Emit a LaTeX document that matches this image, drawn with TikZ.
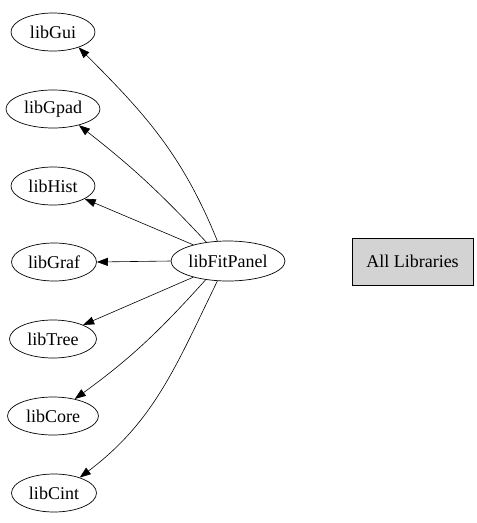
\documentclass[tikz,border=0pt]{standalone}
\usepackage{fontspec}
\setmainfont{Liberation Serif}
\usetikzlibrary{shapes.geometric,arrows.meta}
\definecolor{boxgray}{RGB}{211,211,211}
\begin{document}
\begin{tikzpicture}[x=1pt,y=1pt,
  lib/.style={draw,ellipse,line width=0.7pt,inner sep=0pt,minimum height=38pt,font=\fontsize{18}{21}\selectfont},
  legendbox/.style={draw,rectangle,line width=0.7pt,fill=boxgray,inner sep=0pt,minimum width=121pt,minimum height=47pt,font=\fontsize{18}{21}\selectfont},
  dep/.style={line width=0.6pt,-{Triangle[length=11pt,width=8pt]}}]
\useasboundingbox (0,0) rectangle (477,-523);
\node[lib,minimum width=84pt] (gui) at (53,-32) {libGui};
\node[lib,minimum width=94pt] (gpad) at (53,-109) {libGpad};
\node[lib,minimum width=84pt] (hist) at (53,-186) {libHist};
\node[lib,minimum width=85pt] (graf) at (54,-262) {libGraf};
\node[lib,minimum width=87pt] (tree) at (53,-339) {libTree};
\node[lib,minimum width=91pt] (core) at (53,-416) {libCore};
\node[lib,minimum width=85pt] (cint) at (54,-493) {libCint};
\node[lib,minimum width=114pt,minimum height=40pt] (fp) at (228,-261) {libFitPanel};
\node[legendbox] (all) at (412.5,-261.5) {All Libraries};
\draw[dep] (fp.118) to[out=112,in=-45] (gui.-31);
\draw[dep] (fp.139) to[out=133,in=-38] (gpad.-32);
\draw[dep] (fp.155) -- (hist.-22);
\draw[dep] (fp.west) -- (graf.east);
\draw[dep] (fp.205) -- (tree.25);
\draw[dep] (fp.-140) to[out=228,in=36] (core.38);
\draw[dep] (fp.-118) to[out=244,in=37] (cint.31);
\end{tikzpicture}
\end{document}
